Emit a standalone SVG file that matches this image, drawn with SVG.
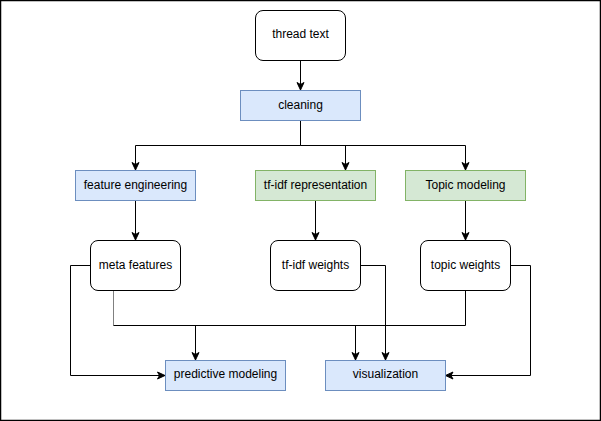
<svg xmlns="http://www.w3.org/2000/svg" width="601" height="421" viewBox="0 0 601 421">
<defs>
<style>
text{font-family:"Liberation Sans",Arial,sans-serif;font-size:12px;fill:#000;text-anchor:middle;dominant-baseline:central}
.r{fill:#fff;stroke:#000;stroke-width:1}
.b{fill:#dae8fc;stroke:#6c8ebf;stroke-width:1}
.g{fill:#d5e8d4;stroke:#82b366;stroke-width:1}
.e{fill:none;stroke:#000;stroke-width:1}
.a{marker-end:url(#arr)}
</style>
<marker id="arr" markerUnits="userSpaceOnUse" markerWidth="9" markerHeight="9" refX="8" refY="4.5" orient="auto">
<path d="M0.5,1 L8,4.5 L0.5,8 L2.5,4.5 Z" fill="#000" stroke="#000" stroke-width="1"/>
</marker>
</defs>
<rect x="0.5" y="0.5" width="600" height="420" fill="#fff" stroke="#000" stroke-width="1.5"/>
<g id="connectors">
<path class="e a" d="M300.5,60.5 V90"/>
<path class="e a" d="M300.5,120.5 V145.5 H135.5 V170"/>
<path class="e a" d="M300.5,145.5 H345.5 V170"/>
<path class="e a" d="M300.5,145.5 H465.5 V170"/>
<path class="e a" d="M135.5,200.5 V240"/>
<path class="e a" d="M315.5,200.5 V240"/>
<path class="e a" d="M465.5,200.5 V240"/>
<path class="e a" d="M90.5,265.5 H70.5 V375.5 H165"/>
<path fill="none" stroke="#808080" stroke-width="1" d="M113.5,290.5 V325.5"/>
<path class="e" d="M113.5,325.5 H465.5 V290.5"/>
<path class="e a" d="M195.5,325.5 V360"/>
<path class="e a" d="M355.5,325.5 V360"/>
<path class="e a" d="M360.5,265.5 H385.5 V360"/>
<path class="e a" d="M510.5,265.5 H530.5 V375.5 H445.5"/>
</g>
<g id="thread-text"><rect class="r" x="255.5" y="10.5" width="90" height="50" rx="7.5"/><text x="300.5" y="34">thread text</text></g>
<g id="cleaning"><rect class="b" x="240.5" y="90.5" width="120" height="30"/><text x="300.5" y="105">cleaning</text></g>
<g id="feature-engineering"><rect class="b" x="75.5" y="170.5" width="120" height="30"/><text x="135.5" y="185">feature engineering</text></g>
<g id="tfidf-representation"><rect class="g" x="255.5" y="170.5" width="120" height="30"/><text x="315.5" y="185">tf-idf representation</text></g>
<g id="topic-modeling"><rect class="g" x="405.5" y="170.5" width="120" height="30"/><text x="465.5" y="185">Topic modeling</text></g>
<g id="meta-features"><rect class="r" x="90.5" y="240.5" width="90" height="50" rx="7.5"/><text x="135.5" y="265">meta features</text></g>
<g id="tfidf-weights"><rect class="r" x="270.5" y="240.5" width="90" height="50" rx="7.5"/><text x="315.5" y="265">tf-idf weights</text></g>
<g id="topic-weights"><rect class="r" x="420.5" y="240.5" width="90" height="50" rx="7.5"/><text x="465.5" y="265">topic weights</text></g>
<g id="predictive-modeling"><rect class="b" x="165.5" y="360.5" width="120" height="30"/><text x="225.5" y="374">predictive modeling</text></g>
<g id="visualization"><rect class="b" x="325.5" y="360.5" width="120" height="30"/><text x="385.5" y="374">visualization</text></g>
</svg>
